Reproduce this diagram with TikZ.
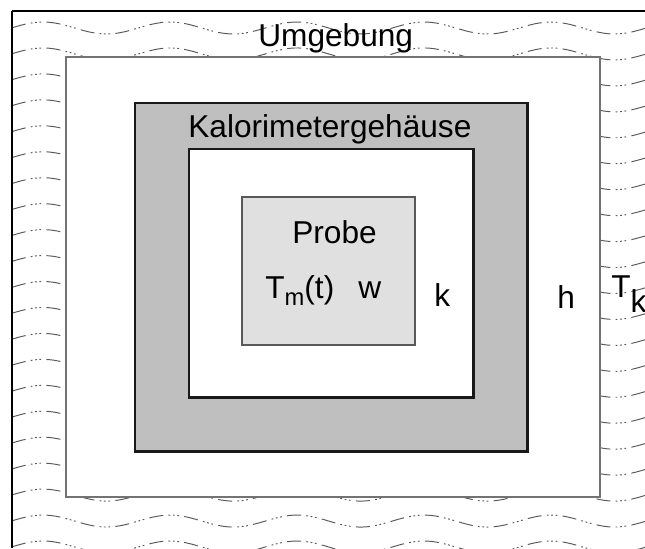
\documentclass[tikz,border=0pt]{standalone}
\usepackage{fontspec}
\setmainfont{Liberation Sans}
\begin{document}
\begin{tikzpicture}[x=0.02cm, y=-0.02cm,
        wave/.style={line width=0.55, color=black!65, dash pattern=on 8pt off 3pt on 1pt off 1.5pt on 1pt off 1.5pt on 1pt off 3pt},
        txt/.style={anchor=base west, inner sep=0, font=\fontsize{18pt}{21pt}\selectfont}]
        \useasboundingbox (0, 0) rectangle (645, 548);

        % Waves (surroundings):
        \begin{scope}
            \clip (12, 11) rectangle (645, 548);
            \foreach \k in {0, 1, ..., 20}
                \draw[wave] plot[domain=12:645, samples=140] (\x, {28 + 25.95*\k - 6*cos(((\x - 43)/127)*360)});
        \end{scope}

        % Frame:
        \draw[line width=0.6, color=black] (12, 11) -- (645, 11);
        \draw[line width=1, color=black] (12, 11) -- (12, 548);

        % Outer box:
        \draw[line width=0.6, color=black!55, fill=white] (66, 57) rectangle (600, 497);

        % Calorimeter housing:
        \draw[line width=1.7, color=black!90, fill=black!25] (135, 103) rectangle (527, 451);
        \draw[line width=1.7, color=black!90, fill=white] (189, 149) rectangle (473, 397);

        % Sample:
        \draw[line width=0.6, color=black!65, fill=black!12] (242, 197) rectangle (415, 345);

        % Labels:
        \node[txt] (umgebung) at (258, 46) {Umgebung};
        \node[txt] (kalorimeter) at (188, 137) {Kalorimetergehäuse};
        \node[txt] (probe) at (292, 243) {Probe};
        \node[txt] (tm) at (265, 298) {T\raisebox{-4pt}{\fontsize{13.5pt}{15pt}\selectfont m}(t)};
        \node[txt] (w) at (358, 298) {w};
        \node[txt] (k) at (434, 306) {k};
        \node[txt] (h) at (557, 308) {h};
        \node[txt] (tk) at (611, 297) {T\raisebox{-9pt}{k}};
\end{tikzpicture}
\end{document}
